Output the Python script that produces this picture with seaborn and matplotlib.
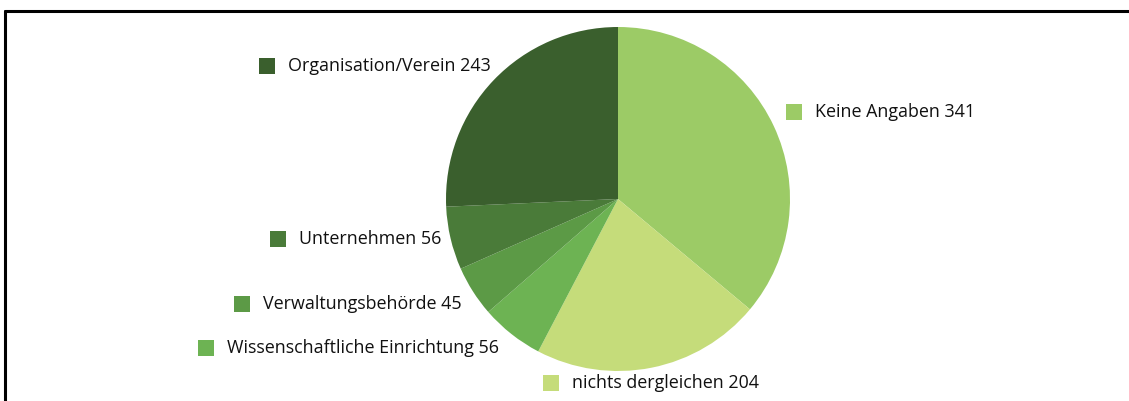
import matplotlib
matplotlib.use("Agg")
import matplotlib.pyplot as plt
import seaborn as sns
from matplotlib.lines import Line2D
from matplotlib.patches import Rectangle

# data, clockwise from 12 o'clock
categories = ["Keine Angaben", "nichts dergleichen", "Wissenschaftliche Einrichtung",
              "Verwaltungsbehörde", "Unternehmen", "Organisation/Verein"]
counts = [341, 204, 56, 45, 56, 243]
colors = ["#9CCB66", "#C5DC7A", "#6DB353", "#5C9A46", "#4A7B39", "#3A5F2D"]

# label anchors (pixel positions of the square marker, left / centre y)
label_pos = [(786, 112), (543, 383), (198, 348), (234, 304), (270, 239), (259, 66)]

sns.set_theme(style="white")
plt.rcParams['font.family'] = ['Open Sans', 'DejaVu Sans']

W, H = 1129, 401
fig = plt.figure(figsize=(W / 100, H / 100), dpi=100)
fig.patch.set_facecolor("white")

# pie axes placed so the circle sits at (618, 199) with radius 172 px
cx, cy, r = 618, 199, 172
ax = fig.add_axes([(cx - r) / W, (H - cy - r) / H, 2 * r / W, 2 * r / H])
ax.pie(counts, colors=colors, startangle=90, counterclock=False, radius=1,
       wedgeprops=dict(linewidth=0))
ax.set_xlim(-1, 1)
ax.set_ylim(-1, 1)
ax.set_aspect("auto")
ax.axis("off")

# legend-like labels
sq = 16
for name, n, col, (x, y) in zip(categories, counts, colors, label_pos):
    fig.add_artist(Rectangle((x / W, (H - y - sq / 2) / H), sq / W, sq / H,
                             transform=fig.transFigure, facecolor=col, edgecolor="none"))
    fig.text((x + 29) / W, (H - y) / H, f"{name} {n}", fontsize=12.9,
             color="#111111", va="center", ha="left")

# frame lines (top and left only)
fig.add_artist(Line2D([5 / W, 1], [1 - 11 / H, 1 - 11 / H], transform=fig.transFigure,
                      color="black", linewidth=2.2))
fig.add_artist(Line2D([5 / W, 5 / W], [0, 1 - 11 / H], transform=fig.transFigure,
                      color="black", linewidth=2.2))

fig.savefig("out.png", dpi=100)
